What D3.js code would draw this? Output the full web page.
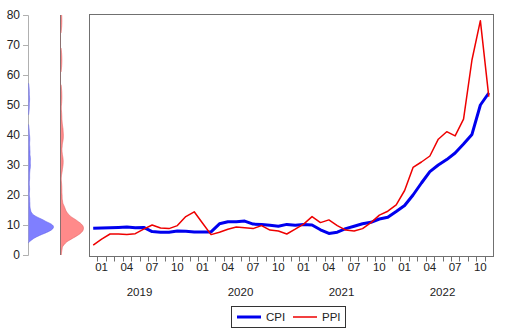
<!DOCTYPE html>
<html><head><meta charset="utf-8">
<script src="https://cdn.jsdelivr.net/npm/d3@7"></script>
<style>
html,body{margin:0;padding:0;background:#fff;}
svg{display:block;font-family:"Liberation Sans",Arial,sans-serif;}
</style></head>
<body><svg id="c" width="532" height="329"></svg>
<script>
const months = ["2018-12",
"2019-01","2019-02","2019-03","2019-04","2019-05","2019-06","2019-07","2019-08","2019-09","2019-10","2019-11","2019-12",
"2020-01","2020-02","2020-03","2020-04","2020-05","2020-06","2020-07","2020-08","2020-09","2020-10","2020-11","2020-12",
"2021-01","2021-02","2021-03","2021-04","2021-05","2021-06","2021-07","2021-08","2021-09","2021-10","2021-11","2021-12",
"2022-01","2022-02","2022-03","2022-04","2022-05","2022-06","2022-07","2022-08","2022-09","2022-10","2022-11"];
const cpi = [8.9,
9.0,9.1,9.2,9.3,9.1,9.2,7.8,7.6,7.6,8.0,7.9,7.7,
7.7,7.7,10.4,11.1,11.1,11.3,10.3,10.2,9.9,9.6,10.2,9.9,
10.2,10.0,8.4,7.2,7.6,8.8,9.6,10.4,10.9,12.0,12.6,14.5,
16.5,20.0,24.0,27.8,30.0,31.8,34.0,37.0,40.2,50.0,54.0];
const ppi = [3.3,
5.3,7.0,7.0,6.8,7.1,8.6,10.0,9.0,8.8,9.8,12.8,14.4,
10.6,6.8,7.6,8.6,9.3,9.1,8.8,9.8,8.3,8.0,7.0,8.6,
10.3,12.8,10.8,11.7,9.8,8.3,8.0,8.8,10.8,13.3,14.6,16.7,
21.5,29.2,31.0,33.0,38.6,41.1,39.7,45.3,65.0,78.1,52.8];
const yTicks = [0,10,20,30,40,50,60,70,80];
const monthTickLabels = ["01","04","07","10"];
const years = ["2019","2020","2021","2022"];
const seriesNames = ["CPI","PPI"];

const svg = d3.select("#c");
const box = {l:89, r:493, t:14, b:256};
const y = d3.scaleLinear().domain([0,80]).range([255,15]);
const x = d3.scaleLinear().domain([-0.5, months.length-0.5]).range([box.l, box.r]);

// KDE (Epanechnikov)
function kde(values, h){
  const grid = d3.range(0, 80.01, 0.25);
  return grid.map(v => {
    let s = 0;
    for (const d of values){ const u=(v-d)/h; if (Math.abs(u)<1) s += 0.75*(1-u*u); }
    return [v, s/(values.length*h)];
  });
}
function drawDensity(values, h, base, width, fill, stroke){
  const dens = kde(values, h);
  const maxD = d3.max(dens, d=>d[1]);
  const w = d3.scaleLinear().domain([0,maxD]).range([0,width]);
  const area = d3.area().y(d=>y(d[0])).x0(base).x1(d=>base+w(d[1])).curve(d3.curveBasis);
  const edge = d3.line().defined(d=>d[1]>0).y(d=>y(d[0])).x(d=>base+w(d[1])).curve(d3.curveBasis);
  svg.append("path").datum(dens).attr("d",area).attr("fill",fill).attr("stroke","none");
  svg.append("path").datum(dens).attr("d",edge).attr("fill","none").attr("stroke",stroke).attr("stroke-width",0.7).attr("stroke-opacity",0.8);
}

// Left axis
const axG = svg.append("g").attr("transform","translate(28,0)");
axG.call(d3.axisLeft(y).tickValues(yTicks).tickSize(5).tickPadding(3));
axG.select(".domain").attr("stroke","#b0b0b0");
axG.selectAll(".tick line").attr("stroke","#b0b0b0");
axG.selectAll(".tick text").attr("font-size",12).attr("fill","#222").attr("font-family","Liberation Sans, Arial, sans-serif");

drawDensity(cpi, 3.4, 28.5, 25, "#7f7fff", "#6060e8");
svg.append("line").attr("x1",60.5).attr("x2",60.5).attr("y1",15).attr("y2",255).attr("stroke","#8a7070").attr("stroke-width",1);
drawDensity(ppi, 4.2, 61, 22.5, "#ff8a8a", "#e06060");

// Plot box
svg.append("rect").attr("x",box.l+0.5).attr("y",box.t+0.5).attr("width",box.r-box.l).attr("height",box.b-box.t)
  .attr("fill","none").attr("stroke","#707070").attr("stroke-width",1);

// Month ticks at boundaries
const bounds = d3.range(0, months.length-1).map(i=>i+0.5);
svg.append("g").selectAll("line").data(bounds).join("line")
  .attr("x1",d=>Math.round(x(d))+0.5).attr("x2",d=>Math.round(x(d))+0.5)
  .attr("y1",box.b+0.5).attr("y2",box.b+5.5).attr("stroke","#707070");

// Month labels
const labIdx = months.map((m,i)=>({m:m.slice(5),i})).filter(d=>monthTickLabels.includes(d.m));
svg.append("g").selectAll("text").data(labIdx).join("text")
  .attr("x",d=>x(d.i)).attr("y",271).attr("text-anchor","middle").attr("font-size",11.5).attr("fill","#222").text(d=>d.m);

// Year labels (centred between May and Jun of the year)
svg.append("g").selectAll("text").data(years).join("text")
  .attr("x",yr=>{const a=months.indexOf(yr+"-05"), b=months.indexOf(yr+"-06"); return (x(a)+x(b))/2;})
  .attr("y",296).attr("text-anchor","middle").attr("font-size",11.5).attr("fill","#222").text(d=>d);

// Lines
const line = d3.line().x((d,i)=>x(i)).y(d=>y(d));
svg.append("path").datum(cpi).attr("d",line).attr("fill","none").attr("stroke","#0000ee").attr("stroke-width",3).attr("stroke-linejoin","round");
svg.append("path").datum(ppi).attr("d",line).attr("fill","none").attr("stroke","#ee0000").attr("stroke-width",1.5).attr("stroke-linejoin","round");

// Legend
const lg = svg.append("g");
lg.append("rect").attr("x",231.5).attr("y",306.5).attr("width",114).attr("height",21).attr("fill","#fff").attr("stroke","#333");
const items = [{n:seriesNames[0],c:"#0000ee",w:3,x0:237},{n:seriesNames[1],c:"#ee0000",w:1.5,x0:293}];
items.forEach(it=>{
  lg.append("line").attr("x1",it.x0).attr("x2",it.x0+24).attr("y1",317).attr("y2",317).attr("stroke",it.c).attr("stroke-width",it.w);
  lg.append("text").attr("x",it.x0+29).attr("y",321).attr("font-size",11.5).attr("fill","#222").text(it.n);
});
</script></body></html>
